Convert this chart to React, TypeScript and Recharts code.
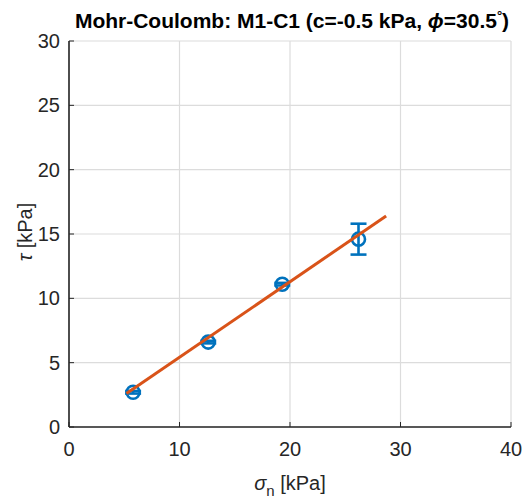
import { Scatter, ScatterChart, XAxis, YAxis, CartesianGrid, ErrorBar } from "recharts";

const sigmaN = [5.8, 12.6, 19.3, 26.2];
const tau = [2.7, 6.6, 11.1, 14.6];
const tauErr = [0.1, 0.1, 0.1, 1.2];
const fitSigma = [5.2, 28.7];
const fitTau = [2.6, 16.4];
const xTicks = [0, 10, 20, 30, 40];
const yTicks = [0, 5, 10, 15, 20, 25, 30];

const points = sigmaN.map((x, i) => ({ x, y: tau[i], err: tauErr[i] }));
const fit = fitSigma.map((x, i) => ({ x, y: fitTau[i] }));

const AXIS = "#262626";
const FONT = "'Liberation Sans', Arial, sans-serif";
const FS = 20;

const BottomTick = (p: any) => (
  <g>
    <line x1={p.x} x2={p.x} y1={p.y} y2={p.y - 5} stroke={AXIS} strokeWidth={1} />
    <text x={p.x} y={p.y + 29} textAnchor="middle" fill={AXIS} fontSize={FS} fontFamily={FONT}>
      {p.payload.value}
    </text>
  </g>
);
const TopTick = (p: any) => (
  <line x1={p.x} x2={p.x} y1={p.y} y2={p.y + 5} stroke={AXIS} strokeWidth={1} />
);
const LeftTick = (p: any) => (
  <g>
    <line x1={p.x} x2={p.x + 5} y1={p.y} y2={p.y} stroke={AXIS} strokeWidth={1} />
    <text x={p.x - 9} y={p.y + 7} textAnchor="end" fill={AXIS} fontSize={FS} fontFamily={FONT}>
      {p.payload.value}
    </text>
  </g>
);
const RightTick = (p: any) => (
  <line x1={p.x} x2={p.x - 5} y1={p.y} y2={p.y} stroke={AXIS} strokeWidth={1} />
);

const Circle = (p: any) => (
  <circle cx={p.cx} cy={p.cy} r={6.5} fill="none" stroke="#0072BD" strokeWidth={2.6} />
);

export default function App() {
  return (
    <div style={{ position: "absolute", left: 0, top: 0, width: 529, height: 500, background: "#fff" }}>
      <ScatterChart width={529} height={500} margin={{ top: 41, right: 18, bottom: 0, left: 0 }}>
        <CartesianGrid stroke="#dcdcdc" strokeWidth={1.2} />
        <XAxis
          type="number"
          dataKey="x"
          domain={[0, 40]}
          ticks={xTicks}
          height={73}
          tickSize={0}
          tickMargin={0}
          tickLine={false}
          axisLine={{ stroke: AXIS, strokeWidth: 1.6 }}
          tick={BottomTick}
          allowDataOverflow
        />
        <XAxis
          xAxisId="top"
          orientation="top"
          type="number"
          dataKey="x"
          domain={[0, 40]}
          ticks={xTicks}
          height={0}
          tickSize={0}
          tickMargin={0}
          tickLine={false}
          axisLine={{ stroke: AXIS, strokeWidth: 1.6 }}
          tick={TopTick}
        />
        <YAxis
          type="number"
          dataKey="y"
          domain={[0, 30]}
          ticks={yTicks}
          width={69}
          tickSize={0}
          tickMargin={0}
          tickLine={false}
          axisLine={{ stroke: AXIS, strokeWidth: 1.6 }}
          tick={LeftTick}
          allowDataOverflow
        />
        <YAxis
          yAxisId="right"
          orientation="right"
          type="number"
          dataKey="y"
          domain={[0, 30]}
          ticks={yTicks}
          width={0}
          tickSize={0}
          tickMargin={0}
          tickLine={false}
          axisLine={{ stroke: AXIS, strokeWidth: 1.6 }}
          tick={RightTick}
        />
        <Scatter data={points} shape={Circle} isAnimationActive={false}>
          <ErrorBar dataKey="err" direction="y" width={8} stroke="#0072BD" strokeWidth={2.6} />
        </Scatter>
        <Scatter
          data={fit}
          line={{ stroke: "#D95319", strokeWidth: 3 }}
          shape={() => null}
          isAnimationActive={false}
        />
        <text x={292} y={28} textAnchor="middle" fill="#000" fontSize={21} fontWeight="bold" fontFamily={FONT}>
          Mohr-Coulomb: M1-C1 (c=-0.5 kPa, <tspan fontStyle="italic">ϕ</tspan>=30.5
          <tspan dy={-8} fontSize={13}>°</tspan>
          <tspan dy={8}>)</tspan>
        </text>
        <text x={290} y={490} textAnchor="middle" fill={AXIS} fontSize={FS} fontFamily={FONT}>
          <tspan fontStyle="italic">σ</tspan>
          <tspan dy={6} fontSize={15}>n</tspan>
          <tspan dy={-6}> [kPa]</tspan>
        </text>
        <text
          x={0}
          y={0}
          transform="translate(32 232) rotate(-90)"
          textAnchor="middle"
          fill={AXIS}
          fontSize={FS}
          fontFamily={FONT}
        >
          <tspan fontStyle="italic">τ</tspan> [kPa]
        </text>
      </ScatterChart>
    </div>
  );
}
